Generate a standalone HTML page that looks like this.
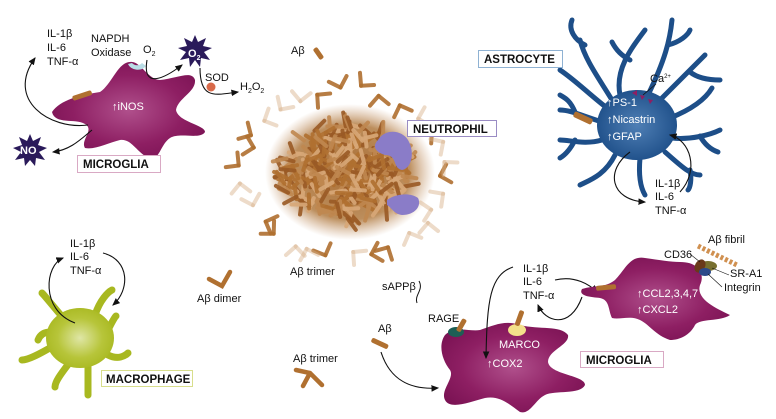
<!DOCTYPE html>
<html><head><meta charset="utf-8">
<style>
html,body{margin:0;padding:0;background:#fff;}
svg{display:block;}
text{font-family:"Liberation Sans",sans-serif;font-size:11px;fill:#111;}
.w{fill:#fff;}
.b{font-weight:bold;font-size:11.5px;}
.ar{fill:none;stroke:#111;stroke-width:1.1;}
</style></head><body>
<svg id="s" width="776" height="419" viewBox="0 0 776 419" xmlns="http://www.w3.org/2000/svg">
<defs>
<radialGradient id="pg" cx="50%" cy="50%" r="60%"><stop offset="0" stop-color="#b0508c"/><stop offset="0.6" stop-color="#8e1f63"/><stop offset="1" stop-color="#7a1253"/></radialGradient>
<radialGradient id="bg" cx="50%" cy="50%" r="55%"><stop offset="0" stop-color="#4f7fb5"/><stop offset="1" stop-color="#1d4e88"/></radialGradient>
<radialGradient id="yg" cx="50%" cy="50%" r="55%"><stop offset="0" stop-color="#dfe6a6"/><stop offset="0.6" stop-color="#b7c53a"/><stop offset="1" stop-color="#a8b820"/></radialGradient>
<radialGradient id="cg" cx="50%" cy="50%" r="50%"><stop offset="0" stop-color="#a86a30"/><stop offset="0.7" stop-color="#b07a40" stop-opacity="0.85"/><stop offset="1" stop-color="#c89a70" stop-opacity="0"/></radialGradient>
<marker id="m" markerWidth="8" markerHeight="8" refX="6" refY="3" orient="auto"><path d="M0,0 L7,3 L0,6 Z" fill="#111"/></marker>
</defs>

<!-- top-left microglia -->
<path d="M52,112 C60,100 80,95 100,92 C112,84 118,62 130,62 C140,60 148,80 160,80 C178,78 192,70 195,80 C196,92 178,98 176,110 C178,122 205,125 205,132 C200,140 180,132 170,138 C160,145 160,160 150,158 C138,155 132,138 120,140 C108,143 95,150 85,148 C80,140 95,130 85,124 C75,118 55,125 52,112 Z" fill="url(#pg)"/>
<path d="M128,64 a10,8 0 0 0 18,2 l-4,-3 a6,5 0 0 1 -10,0 Z" fill="#b9dde6"/>
<rect x="72" y="93" width="20" height="5" rx="2" fill="#b07030" transform="rotate(-18 82 95)"/>
<text x="112" y="110" class="w">↑iNOS</text>
<rect x="77.5" y="155.5" width="83" height="17" fill="#fff" stroke="#d9a9c4"/>
<text x="83" y="168" class="b">MICROGLIA</text>
<text x="47" y="37">IL-1β</text><text x="47" y="51">IL-6</text><text x="47" y="65">TNF-α</text>
<text x="91" y="42">NAPDH</text><text x="91" y="56">Oxidase</text>
<text x="143" y="53">O<tspan font-size="7" dy="3">2</tspan></text>
<path class="ar" d="M88,125 C50,130 5,100 35,58" marker-end="url(#m)"/>
<path class="ar" d="M92,130 C80,140 70,150 53,152" marker-end="url(#m)"/>
<path class="ar" d="M147,60 C142,90 165,78 182,65" marker-end="url(#m)"/>
<path class="ar" d="M200,68 C200,100 215,95 238,92" marker-end="url(#m)"/>
<polygon points="195,35 198,42 206,38 203,46 212,48 204,52 210,60 201,58 200,67 195,60 190,67 189,58 180,60 186,52 178,48 187,46 184,38 192,42" fill="#2a1a5a"/>
<text x="188" y="57" class="w" font-size="10" font-weight="bold">O<tspan font-size="7" dy="3">2</tspan></text>
<polygon points="30,134 33,141 41,137 38,145 47,148 39,152 45,160 36,158 35,166 30,160 25,166 24,158 15,160 21,152 13,148 22,145 19,137 27,141" fill="#2a1a5a"/>
<text x="20" y="154" class="w" font-size="10" font-weight="bold">NO</text>
<text x="205" y="81">SOD</text>
<circle cx="211" cy="87" r="4.5" fill="#d96a4a"/>
<text x="240" y="90">H<tspan font-size="7" dy="3">2</tspan><tspan dy="-3">O</tspan><tspan font-size="7" dy="3">2</tspan></text>

<text x="291" y="54">Aβ</text>
<rect x="313" y="50" width="13" height="5" rx="2" fill="#b07030" transform="rotate(55 318 52)"/>

<!-- cluster -->
<ellipse cx="350" cy="172" rx="85" ry="68" fill="url(#cg)"/>
<g id="rods"></g>
<path d="M378,140 C385,128 402,130 408,140 C415,152 412,168 402,170 C392,168 398,155 385,155 C375,152 372,146 378,140 Z" fill="#8a7cc8"/>
<path d="M387,200 C395,194 410,192 418,198 C422,206 415,215 402,215 C394,214 392,208 387,205 Z" fill="#8a7cc8"/>
<rect x="407.5" y="120.5" width="89" height="16" fill="#fff" stroke="#9a8cc4"/>
<text x="413" y="133" class="b">NEUTROPHIL</text>
<text x="290" y="275">Aβ trimer</text>

<!-- astrocyte -->
<g stroke="#1d4e88" stroke-width="5" fill="none" stroke-linecap="round">
<path d="M612,100 C600,80 585,60 580,40"/><path d="M620,95 C615,70 630,50 645,30"/>
<path d="M648,95 C665,60 670,40 672,20"/><path d="M660,100 C680,80 690,70 705,55"/>
<path d="M670,118 C690,110 705,100 712,88"/><path d="M672,138 C690,140 710,135 720,130"/>
<path d="M665,152 C680,165 690,175 700,175"/><path d="M640,158 C638,180 642,190 645,195"/>
<path d="M602,140 C585,145 570,140 560,140"/><path d="M602,122 C580,115 570,110 560,110"/>
<path d="M607,108 C590,95 575,80 560,70"/><path d="M615,155 C605,175 590,180 580,185"/>
<path d="M585,45 C575,40 568,30 572,20"/><path d="M690,72 C700,80 715,80 720,80"/>
<path d="M630,60 C620,55 615,48 612,42"/><path d="M668,45 C680,42 688,35 690,30"/>
<path d="M700,136 C705,145 712,150 718,152"/><path d="M575,140 C570,150 565,155 560,158"/>
<path d="M575,112 C570,100 565,98 560,95"/><path d="M690,170 C692,180 690,188 688,190"/>
</g>
<ellipse cx="637" cy="125" rx="40" ry="35" fill="url(#bg)"/>
<rect x="573" y="115" width="20" height="6" rx="2" fill="#b07030" transform="rotate(25 583 118)"/>
<polygon points="632,93 637,90 637,96" fill="#8e1f63"/><polygon points="640,95 645,96 642,100" fill="#8e1f63"/><polygon points="648,99 653,100 650,104" fill="#8e1f63"/>
<text x="650" y="82" font-size="9">Ca<tspan font-size="6" dy="-4">2+</tspan></text>
<path d="M656,84 L643,95" stroke="#111" stroke-width="0.8"/>
<text x="607" y="106" class="w">↑PS-1</text><text x="607" y="123" class="w">↑Nicastrin</text><text x="607" y="140" class="w">↑GFAP</text>
<rect x="478.5" y="50.5" width="84" height="17" fill="#fff" stroke="#8fb2d3"/>
<text x="484" y="63" class="b">ASTROCYTE</text>
<path class="ar" d="M630,152 C605,170 610,200 645,202" marker-end="url(#m)"/>
<path class="ar" d="M680,192 C700,170 690,140 670,135" marker-end="url(#m)"/>
<text x="655" y="187">IL-1β</text><text x="655" y="200">IL-6</text><text x="655" y="214">TNF-α</text>

<!-- macrophage -->
<g stroke="#a8b820" stroke-width="7" fill="none" stroke-linecap="round">
<path d="M65,320 C52,305 45,296 42,293"/><path d="M95,315 C100,300 108,292 112,290"/>
<path d="M108,330 C112,322 114,318 116,316"/><path d="M108,355 C118,360 125,356 128,353"/>
<path d="M88,365 C88,385 88,393 88,395"/>
<path d="M70,362 C60,375 55,382 55,387"/><path d="M55,345 C38,355 28,360 22,360"/>
<path d="M55,333 C45,330 40,335 38,340"/>
</g>
<ellipse cx="80" cy="338" rx="34" ry="30" fill="url(#yg)"/>
<text x="70" y="247">IL-1β</text><text x="70" y="260">IL-6</text><text x="70" y="274">TNF-α</text>
<path class="ar" d="M75,323 C40,310 45,265 63,258" marker-end="url(#m)"/>
<path class="ar" d="M103,253 C130,260 130,290 113,305" marker-end="url(#m)"/>
<rect x="101.5" y="370.5" width="91" height="16" fill="#fff" stroke="#d8de8c"/>
<text x="106" y="383" class="b">MACROPHAGE</text>

<text x="197" y="302">Aβ dimer</text>
<path d="M209,279 L222,286 L230,272" stroke="#b07030" stroke-width="4.5" fill="none" stroke-linecap="round"/>
<text x="382" y="290">sAPPβ</text>
<path d="M419,281 C424,290 414,295 417,303" stroke="#111" fill="none"/>
<text x="428" y="322">RAGE</text>
<text x="378" y="332">Aβ</text>
<rect x="371" y="341" width="18" height="5" rx="2" fill="#b07030" transform="rotate(25 380 343)"/>
<text x="293" y="362">Aβ trimer</text>
<path d="M296,370 L310,373 L322,385 M310,373 L303,386" stroke="#b07030" stroke-width="4.5" fill="none" stroke-linecap="round"/>
<path class="ar" d="M381,352 C390,380 410,390 438,388" marker-end="url(#m)"/>

<!-- bottom microglia -->
<path d="M445,335 C455,325 470,332 480,330 C495,325 505,320 520,325 C540,330 560,325 568,335 C570,345 548,350 548,362 C550,375 585,375 585,385 C580,395 555,390 545,395 C535,400 530,415 520,412 C510,405 500,395 485,398 C470,402 450,410 445,400 C440,390 455,378 450,370 C442,360 438,345 445,335 Z" fill="url(#pg)"/>
<ellipse cx="456" cy="332" rx="8" ry="5" fill="#1d5f55"/>
<rect x="459" y="318" width="5" height="14" rx="2" fill="#b07030" transform="rotate(30 461 325)"/>
<ellipse cx="517" cy="330" rx="9" ry="6" fill="#f3e08a"/>
<rect x="517" y="310" width="5" height="16" rx="2" fill="#b07030" transform="rotate(20 519 318)"/>
<text x="499" y="348" class="w">MARCO</text><text x="487" y="367" class="w">↑COX2</text>
<rect x="580.5" y="351.5" width="83" height="16" fill="#fff" stroke="#d9a9c4"/>
<text x="586" y="364" class="b">MICROGLIA</text>
<text x="523" y="272">IL-1β</text><text x="523" y="285">IL-6</text><text x="523" y="299">TNF-α</text>
<path class="ar" d="M513,267 C490,275 487,300 486,358" marker-end="url(#m)"/>
<path class="ar" d="M582,297 C570,330 545,322 538,305" marker-end="url(#m)"/>
<path class="ar" d="M555,280 C575,275 590,285 597,292" marker-end="url(#m)"/>

<!-- right microglia -->
<path d="M582,289 C595,285 605,288 615,280 C625,270 630,255 645,258 C660,260 670,262 680,262 C700,262 705,275 700,285 C695,300 720,310 730,315 C720,322 700,318 695,325 C690,335 680,340 670,340 C655,335 650,325 640,320 C630,315 620,320 612,318 C608,310 610,300 600,298 C590,297 578,296 582,289 Z" fill="url(#pg)"/>
<rect x="596" y="285" width="20" height="5" rx="2" fill="#b07030" transform="rotate(-5 606 287)"/>
<ellipse cx="708" cy="266" rx="9" ry="5" fill="#787030"/>
<ellipse cx="700" cy="266" rx="5" ry="7" fill="#6a3a1a" transform="rotate(30 700 266)"/>
<ellipse cx="705" cy="272" rx="6" ry="4" fill="#2c4a8a"/>
<path d="M698,246 L737,265" stroke="#d09050" stroke-width="5" stroke-dasharray="3,2"/>
<text x="708" y="243">Aβ fibril</text>
<text x="664" y="258">CD36</text>
<path d="M690,254 L700,262" stroke="#111" stroke-width="0.6"/>
<text x="730" y="277">SR-A1</text><text x="724" y="291">Integrin</text>
<path d="M712,268 L729,275 M708,274 L722,287" stroke="#111" stroke-width="0.6"/>
<text x="637" y="297" class="w">↑CCL2,3,4,7</text><text x="637" y="313" class="w">↑CXCL2</text>
</svg>
<script>
(function(){
var g=document.getElementById('rods'),ns='http://www.w3.org/2000/svg',s=7;
function r(){s=(s*9301+49297)%233280;return s/233280;}
function rod(x,y,a,len,col,op){var l=document.createElementNS(ns,'line');
var dx=Math.cos(a)*len,dy=Math.sin(a)*len;
l.setAttribute('x1',x);l.setAttribute('y1',y);l.setAttribute('x2',x+dx);l.setAttribute('y2',y+dy);
l.setAttribute('stroke',col);l.setAttribute('stroke-width',4);l.setAttribute('stroke-linecap','round');l.setAttribute('opacity',op);g.appendChild(l);}
for(var i=0;i<320;i++){var t=r()*6.283,d=Math.sqrt(r());var x=345+Math.cos(t)*d*65,y=172+Math.sin(t)*d*48;
rod(x,y,r()*6.283,14,['#b07030','#c08850','#d8a878','#9a5a25'][i%4],0.9);}
for(var j=0;j<30;j++){var t2=j/30*6.283+r()*0.1,x2=345+Math.cos(t2)*(95+r()*12),y2=172+Math.sin(t2)*(78+r()*10);
var a=r()*6.283,op=r()<0.5?0.45:0.9,c=op<0.5?'#d8b088':'#b07030';
rod(x2,y2,a,13,c,op);rod(x2,y2,a+1.6,13,c,op);}
})();
</script>
</body></html>
